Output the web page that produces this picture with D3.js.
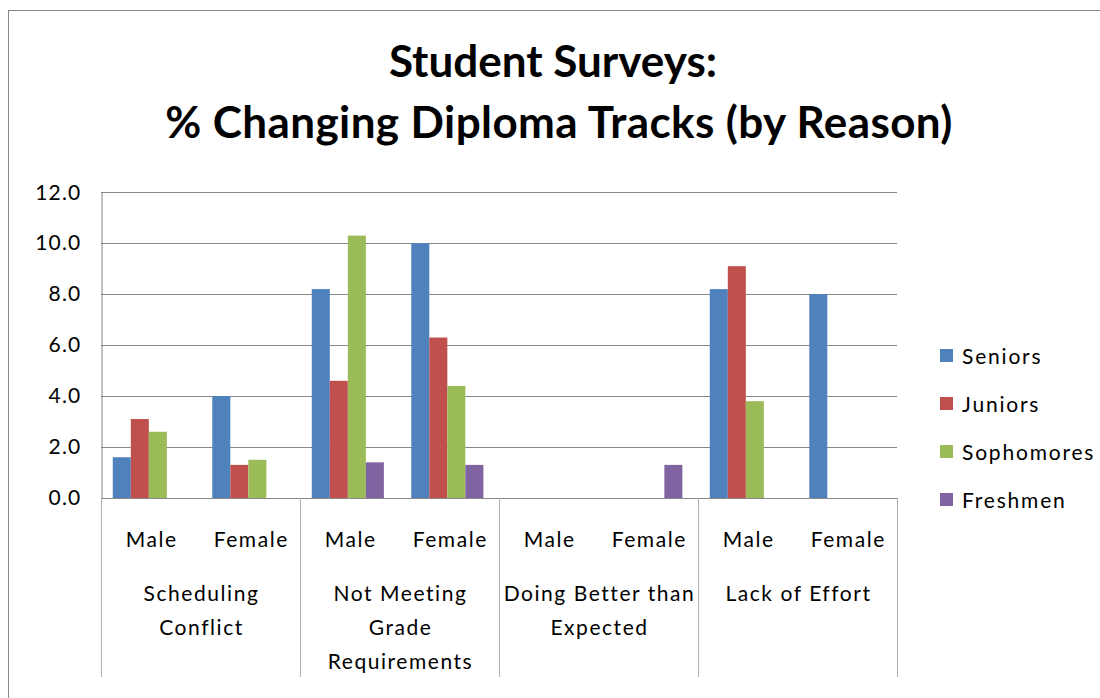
<!DOCTYPE html>
<html>
<head>
<meta charset="utf-8">
<script src="https://cdn.jsdelivr.net/npm/d3@7"></script>
<style>
  html, body { margin: 0; padding: 0; background: #fff; }
  svg { display: block; }
  text { font-family: Lato, "Open Sans", sans-serif; fill: #000; }
</style>
</head>
<body>
<svg id="chart" width="1100" height="698"></svg>
<script>
// ---- data ----
const titleLines = ["Student Surveys:", "% Changing Diploma Tracks (by Reason)"];
const genders = ["Male", "Female", "Male", "Female", "Male", "Female", "Male", "Female"];
const reasons = ["Scheduling Conflict", "Not Meeting Grade Requirements", "Doing Better than Expected", "Lack of Effort"];
const reasonLines = [["Scheduling", "Conflict"], ["Not Meeting", "Grade", "Requirements"], ["Doing Better than", "Expected"], ["Lack of Effort"]];
const seriesNames = ["Seniors", "Juniors", "Sophomores", "Freshmen"];
const seniors    = [1.6, 4.0, 8.2, 10.0, 0, 0,   8.2, 8.0];
const juniors    = [3.1, 1.3, 4.6, 6.3,  0, 0,   9.1, 0];
const sophomores = [2.6, 1.5, 10.3, 4.4, 0, 0,   3.8, 0];
const freshmen   = [0,   0,   1.4, 1.3,  0, 1.3, 0,   0];
const yTicks = [0, 2, 4, 6, 8, 10, 12];
const colors = ["#4F81BD", "#C0504D", "#9BBB59", "#8064A2"];

const seriesValues = [seniors, juniors, sophomores, freshmen];

const svg = d3.select("#chart");
const labelFont = { size: "21px", spacing: "1.55px" };

// outer border
svg.append("rect").attr("x", 8.5).attr("y", 10.5).attr("width", 1200).attr("height", 800)
  .attr("fill", "none").attr("stroke", "#878787").attr("stroke-width", 1);

// title
svg.append("text").attr("x", 553).attr("y", 77).attr("text-anchor", "middle")
  .style("font-weight", "bold").style("font-size", "44px").text(titleLines[0]);
svg.append("text").attr("x", 559).attr("y", 138).attr("text-anchor", "middle")
  .style("font-weight", "bold").style("font-size", "44px").style("letter-spacing", "0.4px").text(titleLines[1]);

const plot = { left: 101, right: 897, top: 192.3, bottom: 498 };

const x = d3.scaleBand().domain(d3.range(genders.length)).range([plot.left, plot.right]).padding(0);
const xs = d3.scaleBand().domain(seriesNames).range([0, x.bandwidth()])
  .paddingInner(0).paddingOuter(0.76).align(0.43);
const y = d3.scaleLinear().domain([0, 12]).range([plot.bottom, plot.top]);

// gridlines
svg.append("g").selectAll("line").data(yTicks.filter(d => d > 0)).join("line")
  .attr("x1", plot.left).attr("x2", plot.right)
  .attr("y1", d => Math.round(y(d)) + 0.5).attr("y2", d => Math.round(y(d)) + 0.5)
  .attr("stroke", "#878787").attr("stroke-width", 1);

// y axis
const yAxis = d3.axisLeft(y).tickValues(yTicks).tickFormat(d3.format(".1f")).tickSize(0).tickPadding(20);
const gy = svg.append("g").attr("transform", `translate(${plot.left + 0.5},0)`).call(yAxis);
gy.select(".domain").attr("stroke", "#878787");
gy.selectAll("text").style("font-family", "Lato, sans-serif").style("font-size", "21px")
  .style("letter-spacing", "1.2px").attr("fill", "#000");

// bars
seriesValues.forEach((vals, si) => {
  svg.append("g").selectAll("rect").data(vals.map((v, i) => ({ v, i }))).join("rect")
    .attr("x", d => x(d.i) + xs(seriesNames[si]))
    .attr("width", xs.bandwidth())
    .attr("y", d => y(d.v))
    .attr("height", d => y(0) - y(d.v))
    .attr("fill", colors[si]);
});

// x axis line
svg.append("line").attr("x1", plot.left).attr("x2", plot.right)
  .attr("y1", plot.bottom + 0.5).attr("y2", plot.bottom + 0.5).attr("stroke", "#878787");

// group separators
const groupEdges = d3.range(reasons.length + 1).map(k => k === reasons.length ? plot.right : x(k * 2));
svg.append("g").selectAll("line").data(groupEdges).join("line")
  .attr("x1", d => Math.round(d) + 0.5).attr("x2", d => Math.round(d) + 0.5)
  .attr("y1", plot.bottom).attr("y2", 677)
  .attr("stroke", "#b0b0b0").attr("stroke-width", 1);

// gender labels
svg.append("g").selectAll("text").data(genders).join("text")
  .attr("x", (d, i) => x(i) + x.bandwidth() / 2 + 1).attr("y", 547)
  .attr("text-anchor", "middle").style("font-size", labelFont.size)
  .style("letter-spacing", labelFont.spacing).text(d => d);

// reason labels
reasonLines.forEach((lines, k) => {
  const cx = (x(k * 2) + x(k * 2 + 1) + x.bandwidth()) / 2 + 1;
  lines.forEach((ln, j) => {
    svg.append("text").attr("x", cx).attr("y", 601 + j * 34)
      .attr("text-anchor", "middle").style("font-size", labelFont.size)
      .style("letter-spacing", labelFont.spacing).text(ln);
  });
});

// legend
const lg = svg.append("g");
seriesNames.forEach((name, i) => {
  const ly = 356 + i * 48;
  lg.append("rect").attr("x", 940).attr("y", ly - 7).attr("width", 13).attr("height", 13).attr("fill", colors[i]);
  lg.append("text").attr("x", 962).attr("y", ly + 8).style("font-size", labelFont.size)
    .style("letter-spacing", "1.8px").text(name);
});
</script>
</body>
</html>
